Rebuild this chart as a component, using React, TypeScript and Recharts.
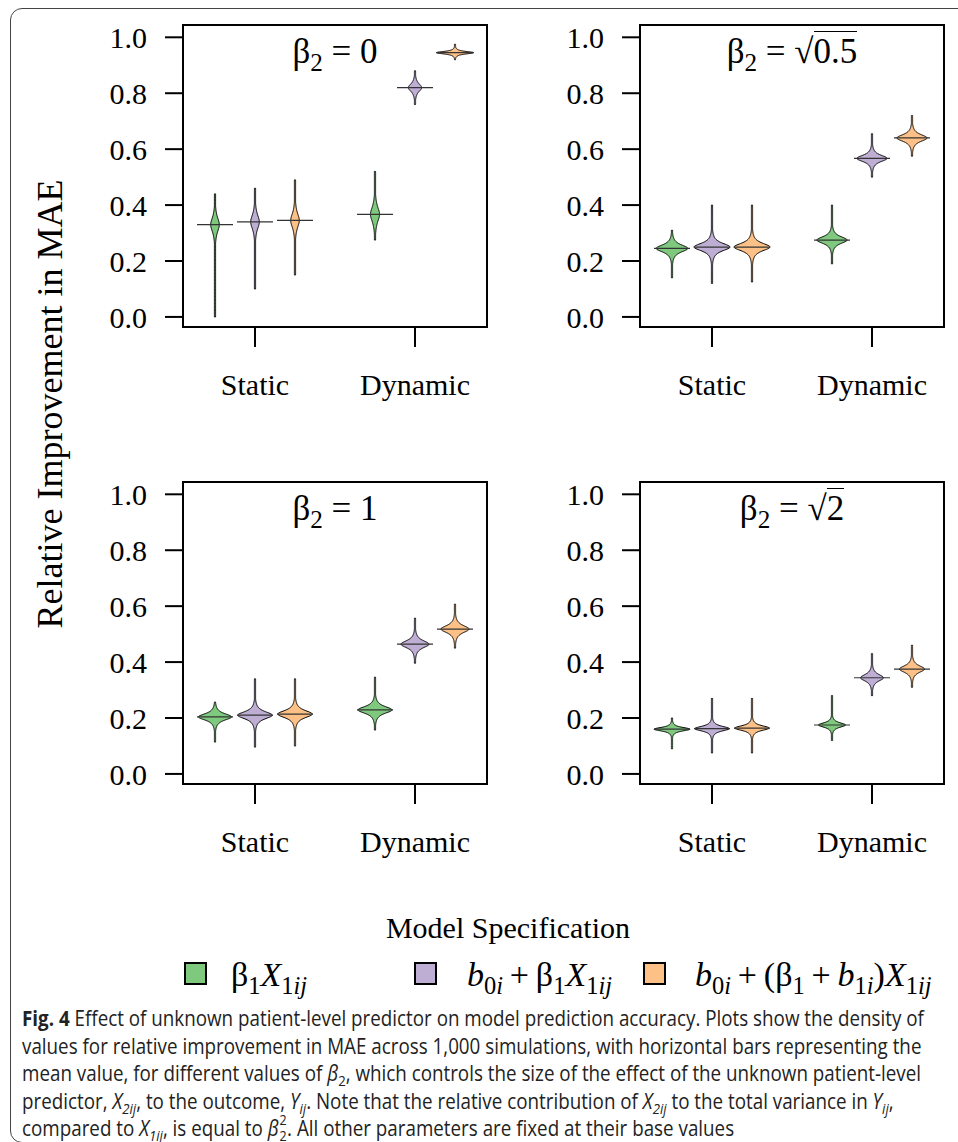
import React from 'react';
import { ComposedChart, Bar, XAxis, YAxis, ReferenceArea } from 'recharts';

const SERIF = '"Liberation Serif", "DejaVu Serif", serif';
const SANS = '"Open Sans", "Noto Sans", sans-serif';

// x slots: static models at 1-3, dynamic models at 5-7
const positions = [1, 2, 3, 5, 6, 7];
const modelColors = ['#7FC97F', '#BEAED4', '#FDC086'];
const xTicks = [2, 6];
const xTickLabels = ['Static', 'Dynamic'];
const yTicks = [0, 0.2, 0.4, 0.6, 0.8, 1.0];
const yDomain = [-0.036, 1.044];

const betaValues = ['0', '0.5', '1', '2'];
const betaIsRoot = [false, true, false, true];

// one row per panel, one entry per violin (G, P, O static, then G, P, O dynamic)
const lowValues = [
  [0.0, 0.1, 0.15, 0.275, 0.76, 0.92],
  [0.14, 0.12, 0.125, 0.19, 0.5, 0.575],
  [0.114, 0.096, 0.1, 0.157, 0.396, 0.45],
  [0.09, 0.075, 0.075, 0.12, 0.28, 0.31],
];
const highValues = [
  [0.44, 0.46, 0.49, 0.52, 0.88, 0.975],
  [0.31, 0.4, 0.4, 0.4, 0.655, 0.72],
  [0.257, 0.34, 0.34, 0.346, 0.557, 0.607],
  [0.2, 0.27, 0.27, 0.28, 0.43, 0.46],
];
const meanValues = [
  [0.33, 0.34, 0.345, 0.367, 0.82, 0.945],
  [0.245, 0.25, 0.25, 0.275, 0.567, 0.64],
  [0.204, 0.21, 0.214, 0.229, 0.464, 0.518],
  [0.16, 0.162, 0.164, 0.175, 0.344, 0.375],
];
const peakDensity = [
  [6.0, 6.0, 6.0, 6.3, 9.3, 26],
  [22, 25, 25, 21, 21, 21],
  [23, 24, 24, 23.6, 19.5, 19.5],
  [25, 24, 24, 18.8, 16, 17.4],
];
const spreadValues = [
  [0.04, 0.04, 0.04, 0.042, 0.022, 0.007],
  [0.02, 0.021, 0.021, 0.019, 0.018, 0.019],
  [0.018, 0.02, 0.02, 0.019, 0.02, 0.02],
  [0.01, 0.013, 0.013, 0.0125, 0.0185, 0.0185],
];

const DENSITY_PX = 0.72;
const PLOT_W = 304;
const PLOT_H = 302;
const AXIS_W = 100;
const panelOrigins = [
  [183, 25],
  [640, 25],
  [183, 482],
  [640, 482],
];

function Violin(props: any) {
  const { x, y, width, height, payload } = props;
  if (!payload || !Number.isFinite(y) || !Number.isFinite(height)) return null;
  const top = Math.min(y, y + height);
  const h = Math.abs(height);
  const { lo, hi, mean, peak, spread, fill } = payload;
  const py = (v: number) => top + (h * (hi - v)) / (hi - lo);
  const cx = x + width / 2;
  const steps = 160;
  const right: string[] = [];
  const left: string[] = [];
  for (let k = 0; k <= steps; k++) {
    const v = hi - ((hi - lo) * k) / steps;
    const d = (v - mean) / spread;
    const half = Math.max(0.6, peak * DENSITY_PX * Math.pow(1 + d * d, -1.5));
    right.push(`${cx + half},${py(v)}`);
    left.unshift(`${cx - half},${py(v)}`);
  }
  return (
    <g>
      <polygon points={[...right, ...left].join(' ')} fill={fill} stroke="#000" strokeWidth={1} strokeLinejoin="round" />
      <line x1={x} x2={x + width} y1={py(mean)} y2={py(mean)} stroke="#333" strokeWidth={1.2} />
    </g>
  );
}

function Panel({ idx }: { idx: number }) {
  const rows = positions.map((pos, i) => ({
    pos,
    lo: lowValues[idx][i],
    hi: highValues[idx][i],
    mean: meanValues[idx][i],
    peak: peakDensity[idx][i],
    spread: spreadValues[idx][i],
    fill: modelColors[i % 3],
  }));
  const [bx, by] = panelOrigins[idx];
  const tickStyle = { fill: '#000', fontSize: 30, fontFamily: SERIF };
  return (
    <div style={{ position: 'absolute', left: bx - AXIS_W, top: by - 10 }}>
      <ComposedChart
        width={AXIS_W + PLOT_W + 10}
        height={10 + PLOT_H + 80}
        data={rows}
        margin={{ top: 10, right: 10, bottom: 0, left: 0 }}
      >
        <XAxis
          type="number"
          dataKey="pos"
          domain={[0.2, 7.8]}
          ticks={xTicks}
          interval={0}
          tickFormatter={(v: number) => xTickLabels[xTicks.indexOf(v)]}
          axisLine={false}
          tickLine={{ stroke: '#000', strokeWidth: 2 }}
          tickSize={20}
          tickMargin={27}
          height={80}
          tick={tickStyle}
          allowDataOverflow
        />
        <YAxis
          type="number"
          domain={yDomain}
          ticks={yTicks}
          interval={0}
          tickFormatter={(v: number) => v.toFixed(1)}
          axisLine={false}
          tickLine={{ stroke: '#000', strokeWidth: 2 }}
          tickSize={18}
          tickMargin={18}
          width={AXIS_W}
          tick={tickStyle}
          allowDataOverflow
        />
        <ReferenceArea
          x1={0.2}
          x2={7.8}
          y1={yDomain[0]}
          y2={yDomain[1]}
          fill="none"
          stroke="#000"
          strokeWidth={2}
          ifOverflow="visible"
        />
        <Bar
          dataKey={(d: any) => [d.lo, d.hi]}
          barSize={40}
          shape={(p: any) => <Violin {...p} />}
          isAnimationActive={false}
        />
      </ComposedChart>
      <div
        style={{
          position: 'absolute',
          left: AXIS_W,
          width: PLOT_W,
          top: 19,
          textAlign: 'center',
          fontFamily: SERIF,
          fontSize: 35,
          lineHeight: '35px',
          whiteSpace: 'nowrap',
        }}
      >
        β<sub style={{ fontSize: '0.72em', lineHeight: 0 }}>2</sub> ={' '}
        {betaIsRoot[idx] ? (
          <>
            √<span style={{ borderTop: '1.5px solid #000' }}>{betaValues[idx]}</span>
          </>
        ) : (
          betaValues[idx]
        )}
      </div>
    </div>
  );
}

const sub = (t: React.ReactNode) => <sub style={{ fontSize: '0.72em', lineHeight: 0 }}>{t}</sub>;
const plus = '\u2009+\u2009';

const legendItems = [
  <>β{sub('1')}<i>X</i>{sub(<>1<i>ij</i></>)}</>,
  <><i>b</i>{sub(<>0<i>i</i></>)}{plus}β{sub('1')}<i>X</i>{sub(<>1<i>ij</i></>)}</>,
  <><i>b</i>{sub(<>0<i>i</i></>)}{plus}(β{sub('1')}{plus}<i>b</i>{sub(<>1<i>i</i></>)})<i>X</i>{sub(<>1<i>ij</i></>)}</>,
];
const legendBoxLeft = [184, 414, 643];
const legendTextLeft = [231, 467, 695];

const csub = (t: React.ReactNode) => <sub style={{ fontSize: '0.7em', lineHeight: 0 }}>{t}</sub>;
const captionLines = [
  <><b>Fig. 4</b> Effect of unknown patient-level predictor on model prediction accuracy. Plots show the density of</>,
  <>values for relative improvement in MAE across 1,000 simulations, with horizontal bars representing the</>,
  <>mean value, for different values of <i>β</i>{csub('2')}, which controls the size of the effect of the unknown patient-level</>,
  <>predictor, <i>X</i>{csub(<i>2ij</i>)}, to the outcome, <i>Y</i>{csub(<i>ij</i>)}. Note that the relative contribution of <i>X</i>{csub(<i>2ij</i>)} to the total variance in <i>Y</i>{csub(<i>ij</i>)},</>,
  <>compared to <i>X</i>{csub(<i>1ij</i>)}, is equal to <i>β</i>
    <span style={{ position: 'relative', display: 'inline-block', width: '0.45em', height: '1em' }}>
      <span style={{ position: 'absolute', left: 1, top: -9, fontSize: 14 }}>2</span>
      <span style={{ position: 'absolute', left: 1, top: 7, fontSize: 14 }}>2</span>
    </span>. All other parameters are fixed at their base values</>,
];

export default function App() {
  return (
    <div
      style={{
        position: 'absolute',
        left: 0,
        top: 0,
        width: 958,
        height: 1142,
        overflow: 'hidden',
        background: '#fff',
        fontFamily: SERIF,
        color: '#000',
      }}
    >
      <div
        style={{
          position: 'absolute',
          left: 10,
          top: 8,
          width: 1000,
          height: 1133,
          border: '1.5px solid #444',
          borderRadius: 12,
        }}
      />
      {[0, 1, 2, 3].map((i) => (
        <Panel key={i} idx={i} />
      ))}
      <div
        style={{
          position: 'absolute',
          left: 50,
          top: 404,
          transform: 'translate(-50%, -50%) rotate(-90deg)',
          fontSize: 36,
          lineHeight: 1,
          whiteSpace: 'nowrap',
        }}
      >
        Relative Improvement in MAE
      </div>
      <div style={{ position: 'absolute', left: 0, width: 1016, top: 913, textAlign: 'center', fontSize: 30, lineHeight: 1 }}>
        Model Specification
      </div>
      {legendItems.map((item, i) => (
        <React.Fragment key={i}>
          <div
            style={{
              position: 'absolute',
              left: legendBoxLeft[i],
              top: 962,
              width: 19,
              height: 19,
              background: modelColors[i],
              border: '2px solid #000',
            }}
          />
          <div
            style={{
              position: 'absolute',
              left: legendTextLeft[i],
              top: 958,
              fontSize: 34,
              lineHeight: 1,
              whiteSpace: 'nowrap',
            }}
          >
            {item}
          </div>
        </React.Fragment>
      ))}
      {captionLines.map((line, i) => (
        <div
          key={i}
          style={{
            position: 'absolute',
            left: 22,
            top: 1005 + i * 27.5,
            fontFamily: SANS,
            fontSize: 21,
            lineHeight: '27.5px',
            whiteSpace: 'nowrap',
            color: '#222',
            transform: 'scaleX(0.895)',
            transformOrigin: '0 0',
          }}
        >
          {line}
        </div>
      ))}
    </div>
  );
}
